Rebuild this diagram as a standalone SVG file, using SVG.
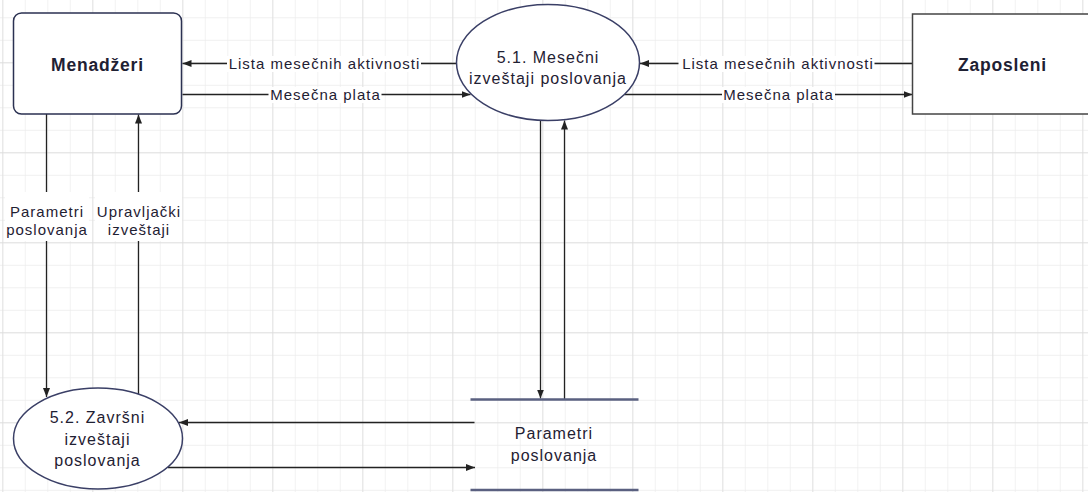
<svg xmlns="http://www.w3.org/2000/svg" width="1088" height="492" viewBox="0 0 1088 492">
  <defs>
    <pattern id="gridMinor" patternUnits="userSpaceOnUse" x="2.3" y="17.3" width="22.5" height="22.5">
      <path d="M0,0 V22.5 M0,0 H22.5" fill="none" stroke="#ececec" stroke-width="1.3"/>
    </pattern>
    <pattern id="gridMajor" patternUnits="userSpaceOnUse" x="2.3" y="62.3" width="90" height="90">
      <path d="M0,0 V90 M0,0 H90" fill="none" stroke="#dcdcdc" stroke-width="1.4"/>
    </pattern>
    <marker id="arrow" markerUnits="userSpaceOnUse" markerWidth="10" markerHeight="8" refX="9" refY="4" orient="auto">
      <path d="M0,0.5 L9,4 L0,7.5 z" fill="#222"/>
    </marker>
    <style>
      .node-text { font-family: "Liberation Sans", Arial, sans-serif; font-size: 16px; letter-spacing: 1px; fill: #1f2133; text-anchor: middle; }
      .ent-text { font-family: "Liberation Sans", Arial, sans-serif; font-size: 17.5px; font-weight: bold; letter-spacing: 0.8px; fill: #1f2133; text-anchor: middle; }
      .lbl { font-family: "Liberation Sans", Arial, sans-serif; font-size: 15px; letter-spacing: 1px; fill: #1f2133; text-anchor: middle; }
      .conn { fill: none; stroke: #222; stroke-width: 1.3; marker-end: url(#arrow); }
      .lblbg { fill: #ffffff; }
      .proc { fill: #ffffff; stroke: #3a3f66; stroke-width: 1.5; }
      .store { stroke: #5a6080; stroke-width: 2.5; }
    </style>
  </defs>

  <rect x="0" y="0" width="1088" height="492" fill="#ffffff"/>
  <rect x="0" y="0" width="1088" height="492" fill="url(#gridMinor)"/>
  <rect x="0" y="0" width="1088" height="492" fill="url(#gridMajor)"/>

  <g id="connectors">
    <line class="conn" x1="456.5" y1="63.5" x2="182.5" y2="63.5"/>
    <line class="conn" x1="182.5" y1="94.5" x2="470.5" y2="94.5"/>
    <line class="conn" x1="912.5" y1="63.5" x2="640" y2="63.5"/>
    <line class="conn" x1="624.5" y1="94.5" x2="912.5" y2="94.5"/>
    <line class="conn" x1="46.5" y1="114" x2="46.5" y2="397"/>
    <line class="conn" x1="138.5" y1="394" x2="138.5" y2="114.5"/>
    <line class="conn" x1="540.5" y1="120.5" x2="540.5" y2="398.5"/>
    <line class="conn" x1="564.5" y1="399" x2="564.5" y2="120.5"/>
    <line class="conn" x1="474.5" y1="422.5" x2="179" y2="422.5"/>
    <line class="conn" x1="168" y1="467.5" x2="475" y2="467.5"/>

    <rect class="lblbg" x="227" y="56" width="194" height="16"/>
    <text class="lbl" x="324.5" y="69">Lista mesečnih aktivnosti</text>
    <rect class="lblbg" x="268.5" y="87" width="113" height="16"/>
    <text class="lbl" x="325.5" y="100">Mesečna plata</text>
    <rect class="lblbg" x="678.5" y="56" width="196" height="16"/>
    <text class="lbl" x="778" y="69">Lista mesečnih aktivnosti</text>
    <rect class="lblbg" x="722" y="87" width="113" height="16"/>
    <text class="lbl" x="778.5" y="100">Mesečna plata</text>

    <rect class="lblbg" x="5" y="192" width="84" height="49"/>
    <text class="lbl" x="47" y="216.5">Parametri</text>
    <text class="lbl" x="47" y="235">poslovanja</text>
    <rect class="lblbg" x="95" y="192" width="87" height="49"/>
    <text class="lbl" x="139" y="216.5">Upravljački</text>
    <text class="lbl" x="139" y="235">izveštaji</text>
  </g>

  <g id="menadzeri">
    <rect x="13.5" y="13" width="168" height="101" rx="8" ry="8" fill="#ffffff" stroke="#2b3152" stroke-width="1.5"/>
    <text class="ent-text" x="97.5" y="70.5">Menadžeri</text>
  </g>

  <g id="zaposleni">
    <rect x="912.5" y="14" width="180" height="100" fill="#ffffff" stroke="#444444" stroke-width="1.5"/>
    <text class="ent-text" x="1002.5" y="70.5">Zaposleni</text>
  </g>

  <g id="proces-5-1">
    <ellipse class="proc" cx="548" cy="62.5" rx="91.5" ry="58"/>
    <text class="node-text" x="548" y="62.5">5.1. Mesečni</text>
    <text class="node-text" x="548" y="83.5">izveštaji poslovanja</text>
  </g>

  <g id="proces-5-2">
    <ellipse class="proc" cx="98" cy="438.5" rx="84.5" ry="50.5"/>
    <text class="node-text" x="97.5" y="423">5.2. Završni</text>
    <text class="node-text" x="97.5" y="444.5">izveštaji</text>
    <text class="node-text" x="97.5" y="466">poslovanja</text>
  </g>

  <g id="skladiste-parametri">
    <line class="store" x1="470.5" y1="399.5" x2="638.5" y2="399.5"/>
    <line class="store" x1="470.5" y1="490" x2="638.5" y2="490"/>
    <text class="node-text" x="554" y="439">Parametri</text>
    <text class="node-text" x="554" y="461">poslovanja</text>
  </g>
</svg>
